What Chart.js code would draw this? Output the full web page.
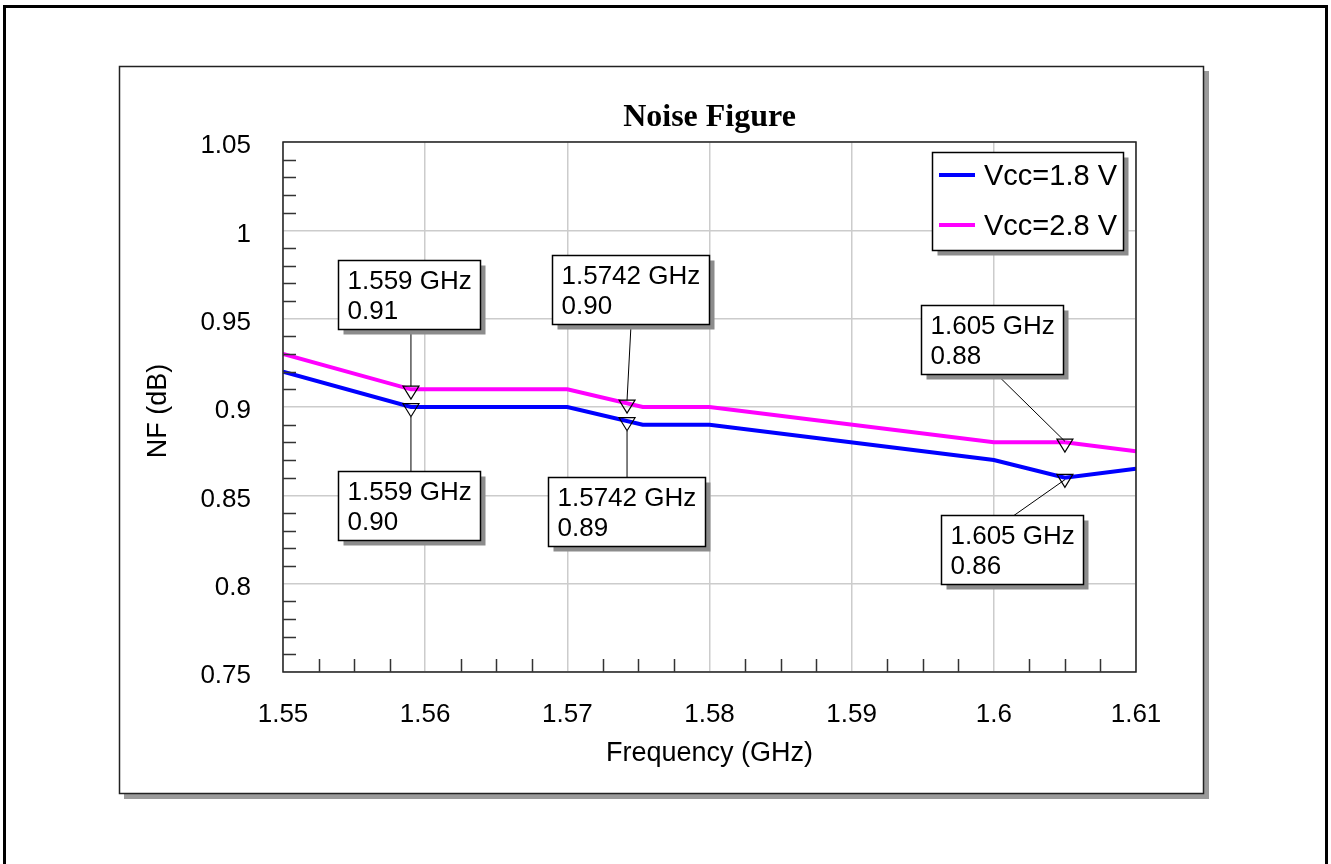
<!DOCTYPE html>
<html>
<head>
<meta charset="utf-8">
<title>Noise Figure</title>
<script src="https://cdn.jsdelivr.net/npm/chart.js@4.4.1/dist/chart.umd.min.js"></script>
<style>
  html, body { margin: 0; padding: 0; background: #fff; }
  #wrap { width: 1331px; height: 864px; }
</style>
</head>
<body>
<div id="wrap"><canvas id="nf-chart" width="1331" height="864"></canvas></div>
<script>
// ─── Data ─────────────────────────────────────────────────────────────────────

const freqGHz = [1.55, 1.559, 1.57, 1.5753, 1.58, 1.60, 1.605, 1.61];
const nfVcc18 = [0.92, 0.90, 0.90, 0.89, 0.89, 0.87, 0.86, 0.865];
const nfVcc28 = [0.93, 0.91, 0.91, 0.90, 0.90, 0.88, 0.88, 0.875];
const seriesNames = ["Vcc=1.8 V", "Vcc=2.8 V"];
const seriesColors = ["#0000ff", "#ff00ff"];

const xTicks = [1.55, 1.56, 1.57, 1.58, 1.59, 1.6, 1.61];
const yTicks = [0.75, 0.8, 0.85, 0.9, 0.95, 1, 1.05];

const markerFreqs = [1.559, 1.5742, 1.605];
const markerText18 = ["0.90", "0.89", "0.86"];
const markerText28 = ["0.91", "0.90", "0.88"];

// callout placement relative to the marker point (style only)
const calloutLayout = [
  // Vcc=1.8 V, boxes below the line
  [{ dx: -73, dy: 64, ax: 0, ey: 10 }, { dx: -79, dy: 56, ax: 0, ey: 10 }, { dx: -124, dy: 37, ax: -51, ey: 2 }],
  // Vcc=2.8 V, boxes above the line
  [{ dx: -73, dy: -129, ax: 0, ey: -3 }, { dx: -75, dy: -148, ax: 4, ey: -3 }, { dx: -144, dy: -137, ax: -68, ey: -1 }],
];

const SANS = "'Liberation Sans', Arial, sans-serif";
const SERIF = "'Liberation Serif', 'Times New Roman', serif";

// ─── Helpers ──────────────────────────────────────────────────────────────────

function interp(xs, ys, x) {
  for (let i = 0; i < xs.length - 1; i++) {
    if (x >= xs[i] && x <= xs[i + 1]) {
      const t = (x - xs[i]) / (xs[i + 1] - xs[i]);
      return ys[i] + t * (ys[i + 1] - ys[i]);
    }
  }
  return ys[ys.length - 1];
}

function fmtTick(v) {
  return String(Number(v.toFixed(2)));
}

function boxWithShadow(ctx, x, y, w, h) {
  ctx.fillStyle = "#8c8c8c";
  ctx.fillRect(x + 5, y + 5, w, h);
  ctx.fillStyle = "#fff";
  ctx.fillRect(x, y, w, h);
  ctx.strokeStyle = "#000";
  ctx.lineWidth = 1.5;
  ctx.strokeRect(x, y, w, h);
}

// ─── Plugin: frame, panel, ticks, callouts, legend ───────────────────────────

const decor = {
  id: "decor",
  beforeDraw(chart) {
    const { ctx, width } = chart;
    ctx.save();
    ctx.fillStyle = "#fff";
    ctx.fillRect(0, 0, width, chart.height);
    // outer frame
    ctx.strokeStyle = "#000";
    ctx.lineWidth = 3;
    ctx.strokeRect(4.5, 6.5, width - 9, 900);
    // panel with shadow
    ctx.fillStyle = "#9a9a9a";
    ctx.fillRect(124, 71, 1085, 728);
    ctx.fillStyle = "#fff";
    ctx.fillRect(119.5, 66.5, 1084, 727);
    ctx.strokeStyle = "#222";
    ctx.lineWidth = 1.5;
    ctx.strokeRect(119.5, 66.5, 1084, 727);
    ctx.restore();
  },
  afterDraw(chart) {
    const { ctx, chartArea: a, scales: { x, y } } = chart;
    ctx.save();

    // plot border
    ctx.strokeStyle = "#222";
    ctx.lineWidth = 1.5;
    ctx.strokeRect(a.left, a.top, a.right - a.left, a.bottom - a.top);

    // minor ticks
    ctx.beginPath();
    for (let i = 0; i < xTicks.length - 1; i++) {
      for (let k = 1; k < 4; k++) {
        const px = Math.round(x.getPixelForValue(xTicks[i] + (xTicks[i + 1] - xTicks[i]) * k / 4)) + 0.5;
        ctx.moveTo(px, a.bottom);
        ctx.lineTo(px, a.bottom - 13);
      }
    }
    for (let i = 0; i < yTicks.length - 1; i++) {
      for (let k = 1; k < 5; k++) {
        const py = Math.round(y.getPixelForValue(yTicks[i] + (yTicks[i + 1] - yTicks[i]) * k / 5)) + 0.5;
        ctx.moveTo(a.left, py);
        ctx.lineTo(a.left + 13, py);
      }
    }
    ctx.strokeStyle = "#333";
    ctx.lineWidth = 1.5;
    ctx.stroke();

    // markers and callouts
    const series = [nfVcc18, nfVcc28];
    const texts = [markerText18, markerText28];
    ctx.font = `26px ${SANS}`;
    series.forEach((vals, s) => {
      markerFreqs.forEach((f, m) => {
        const px = x.getPixelForValue(f);
        const py = y.getPixelForValue(interp(freqGHz, vals, f));
        const lay = calloutLayout[s][m];
        const line1 = `${f} GHz`;
        const line2 = texts[s][m];
        const w = Math.round(ctx.measureText(line1).width + 18);
        const h = 69;
        const bx = Math.round(px + lay.dx) + 0.5;
        const by = Math.round(py + lay.dy) + 0.5;

        // triangle marker
        ctx.beginPath();
        ctx.moveTo(px - 8, py - 3.3);
        ctx.lineTo(px + 8, py - 3.3);
        ctx.lineTo(px, py + 9.7);
        ctx.closePath();
        ctx.strokeStyle = "#000";
        ctx.lineWidth = 1.2;
        ctx.stroke();

        // leader
        ctx.beginPath();
        const above = lay.dy < 0;
        ctx.moveTo(px + lay.ax, above ? by + h : by);
        ctx.lineTo(px, py + lay.ey);
        ctx.lineWidth = 1;
        ctx.stroke();

        boxWithShadow(ctx, bx, by, w, h);
        ctx.fillStyle = "#000";
        ctx.textAlign = "left";
        ctx.textBaseline = "alphabetic";
        ctx.fillText(line1, bx + 9, by + 28);
        ctx.fillText(line2, bx + 9, by + 58);
      });
    });

    // legend
    const lx = a.right - 204, ly = a.top + 10;
    boxWithShadow(ctx, lx + 0.5, ly + 0.5, 191, 98);
    chart.data.datasets.forEach((ds, i) => {
      const yy = ly + 23 + i * 50;
      ctx.beginPath();
      ctx.moveTo(lx + 7, yy);
      ctx.lineTo(lx + 43, yy);
      ctx.strokeStyle = ds.borderColor;
      ctx.lineWidth = 4;
      ctx.stroke();
      ctx.fillStyle = "#000";
      ctx.font = `29px ${SANS}`;
      ctx.textAlign = "left";
      ctx.fillText(ds.label, lx + 52, yy + 10);
    });

    // titles
    const cx = (a.left + a.right) / 2;
    ctx.fillStyle = "#000";
    ctx.textAlign = "center";
    ctx.font = `bold 32px ${SERIF}`;
    ctx.fillText("Noise Figure", cx, 126);
    ctx.font = `27px ${SANS}`;
    ctx.fillText("Frequency (GHz)", cx, 761);
    ctx.save();
    ctx.translate(166, (a.top + a.bottom) / 2 + 4);
    ctx.rotate(-Math.PI / 2);
    ctx.fillText("NF (dB)", 0, 0);
    ctx.restore();

    ctx.restore();
  },
};

// ─── Chart ────────────────────────────────────────────────────────────────────

const toPoints = vals => freqGHz.map((f, i) => ({ x: f, y: vals[i] }));

new Chart(document.getElementById("nf-chart").getContext("2d"), {
  type: "line",
  data: {
    datasets: [
      { label: seriesNames[0], data: toPoints(nfVcc18), borderColor: seriesColors[0], borderWidth: 4, pointRadius: 0, tension: 0, fill: false },
      { label: seriesNames[1], data: toPoints(nfVcc28), borderColor: seriesColors[1], borderWidth: 4, pointRadius: 0, tension: 0, fill: false },
    ],
  },
  options: {
    responsive: false,
    animation: false,
    devicePixelRatio: 1,
    layout: { padding: { top: 142, right: 195, left: 0, bottom: 0 } },
    plugins: { legend: { display: false }, tooltip: { enabled: false }, title: { display: false } },
    scales: {
      x: {
        type: "linear",
        min: 1.55,
        max: 1.61,
        afterBuildTicks: s => { s.ticks = xTicks.map(v => ({ value: v })); },
        afterFit: s => { s.height = 192; },
        grid: { color: "#cccccc", lineWidth: 1.5, drawTicks: false },
        border: { display: false },
        ticks: { color: "#000", font: { family: SANS, size: 26 }, padding: 27, maxRotation: 0, callback: v => fmtTick(v) },
      },
      y: {
        type: "linear",
        min: 0.75,
        max: 1.05,
        afterBuildTicks: s => { s.ticks = yTicks.map(v => ({ value: v })); },
        afterFit: s => { s.width = 283; },
        grid: { color: "#cccccc", lineWidth: 1.5, drawTicks: false },
        border: { display: false },
        ticks: { color: "#000", font: { family: SANS, size: 26 }, padding: 32, labelOffset: 4, callback: v => fmtTick(v) },
      },
    },
  },
  plugins: [decor],
});
</script>
</body>
</html>
